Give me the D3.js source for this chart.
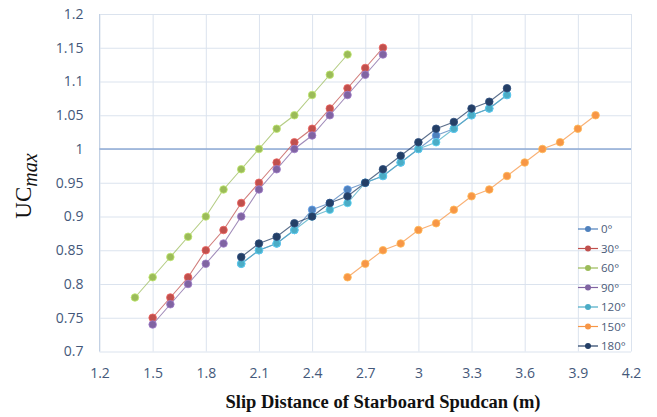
<!DOCTYPE html>
<html>
<head>
<meta charset="utf-8">
<script src="https://cdn.jsdelivr.net/npm/d3@7"></script>
<style>
  body { margin: 0; background: #fff; }
  svg { display: block; }
</style>
</head>
<body>
<div id="chart"></div>
<script>
// slip distances (m), one list per group of series
var slipA = [1.5, 1.6, 1.7, 1.8, 1.9, 2.0, 2.1, 2.2, 2.3, 2.4, 2.5, 2.6, 2.7, 2.8];
var slipB = [1.4, 1.5, 1.6, 1.7, 1.8, 1.9, 2.0, 2.1, 2.2, 2.3, 2.4, 2.5, 2.6];
var slipC = [2.0, 2.1, 2.2, 2.3, 2.4, 2.5, 2.6, 2.7, 2.8, 2.9, 3.0, 3.1, 3.2, 3.3, 3.4, 3.5];
var slipD = [2.6, 2.7, 2.8, 2.9, 3.0, 3.1, 3.2, 3.3, 3.4, 3.5, 3.6, 3.7, 3.8, 3.9, 4.0];

// UCmax values per heading
var uc0   = [0.83, 0.85, 0.86, 0.88, 0.91, 0.92, 0.94, 0.95, 0.96, 0.98, 1.00, 1.02, 1.03, 1.05, 1.06, 1.08];
var uc30  = [0.75, 0.78, 0.81, 0.85, 0.88, 0.92, 0.95, 0.98, 1.01, 1.03, 1.06, 1.09, 1.12, 1.15];
var uc60  = [0.78, 0.81, 0.84, 0.87, 0.90, 0.94, 0.97, 1.00, 1.03, 1.05, 1.08, 1.11, 1.14];
var uc90  = [0.74, 0.77, 0.80, 0.83, 0.86, 0.90, 0.94, 0.97, 1.00, 1.02, 1.05, 1.08, 1.11, 1.14];
var uc120 = [0.83, 0.85, 0.86, 0.88, 0.90, 0.91, 0.92, 0.95, 0.96, 0.98, 1.00, 1.01, 1.03, 1.05, 1.06, 1.08];
var uc150 = [0.81, 0.83, 0.85, 0.86, 0.88, 0.89, 0.91, 0.93, 0.94, 0.96, 0.98, 1.00, 1.01, 1.03, 1.05];
var uc180 = [0.84, 0.86, 0.87, 0.89, 0.90, 0.92, 0.93, 0.95, 0.97, 0.99, 1.01, 1.03, 1.04, 1.06, 1.07, 1.09];

var headings = ["0°", "30°", "60°", "90°", "120°", "150°", "180°"];
var xTicks = [1.2, 1.5, 1.8, 2.1, 2.4, 2.7, 3, 3.3, 3.6, 3.9, 4.2];
var yTicks = [0.7, 0.75, 0.8, 0.85, 0.9, 0.95, 1, 1.05, 1.1, 1.15, 1.2];

(function() {
    var width = 657, height = 417;
    var left = 99.5, right = 631, top = 14, bottom = 351.5;
    var colors = ["#4f81bd", "#c0504d", "#9bbb59", "#8064a2", "#4bacc6", "#f79646", "#243f66"];
    var tickColor = "#44587a";

    var series = [
        {name: headings[0], xs: slipC, ys: uc0},
        {name: headings[1], xs: slipA, ys: uc30},
        {name: headings[2], xs: slipB, ys: uc60},
        {name: headings[3], xs: slipA, ys: uc90},
        {name: headings[4], xs: slipC, ys: uc120},
        {name: headings[5], xs: slipD, ys: uc150},
        {name: headings[6], xs: slipC, ys: uc180}
    ];
    series.forEach(function(s, i) {
        s.color = colors[i];
        s.points = s.xs.map(function(v, j) { return [v, s.ys[j]]; });
    });

    var x = d3.scaleLinear().domain([1.2, 4.2]).range([left, right]);
    var y = d3.scaleLinear().domain([0.7, 1.2]).range([bottom, top]);

    var svg = d3.select("#chart")
        .append("svg")
        .attr("width", width)
        .attr("height", height);

    // grid
    svg.append("g")
        .attr("transform", "translate(" + left + ",0)")
        .call(d3.axisLeft(y).tickValues(yTicks).tickSize(-(right - left)).tickFormat(""))
        .call(function(g) {
            g.select(".domain").remove();
            g.selectAll("line").attr("stroke", "#dbe3ee").attr("stroke-width", 1);
        });
    svg.append("g")
        .attr("transform", "translate(0," + bottom + ")")
        .call(d3.axisBottom(x).tickValues(xTicks).tickSize(-(bottom - top)).tickFormat(""))
        .call(function(g) {
            g.select(".domain").remove();
            g.selectAll("line").attr("stroke", "#dbe3ee").attr("stroke-width", 1);
        });

    // left axis line and the UC = 1 line
    svg.append("line")
        .attr("x1", left).attr("x2", left)
        .attr("y1", top).attr("y2", bottom)
        .attr("stroke", "#c3d1e4");
    svg.append("line")
        .attr("x1", left).attr("x2", right)
        .attr("y1", y(1)).attr("y2", y(1))
        .attr("stroke", "#8eaad4")
        .attr("stroke-width", 1.3);

    // tick labels
    svg.append("g")
        .attr("transform", "translate(" + left + ",0)")
        .call(d3.axisLeft(y).tickValues(yTicks).tickSize(0).tickPadding(16).tickFormat(function(d) { return String(+d.toFixed(2)); }))
        .call(function(g) {
            g.select(".domain").remove();
            g.selectAll("text")
                .attr("fill", tickColor)
                .style("font-family", "'Open Sans', sans-serif")
                .style("font-size", "14px");
        });
    svg.append("g")
        .attr("transform", "translate(0," + bottom + ")")
        .call(d3.axisBottom(x).tickValues(xTicks).tickSize(0).tickPadding(17).tickFormat(function(d) { return String(+d.toFixed(1)); }))
        .call(function(g) {
            g.select(".domain").remove();
            g.selectAll("text")
                .attr("fill", tickColor)
                .style("font-family", "'Open Sans', sans-serif")
                .style("font-size", "14px");
        });

    // series
    var line = d3.line()
        .x(function(d) { return x(d[0]); })
        .y(function(d) { return y(d[1]); });

    var grp = svg.selectAll(".series")
        .data(series)
        .enter()
        .append("g")
        .attr("class", "series");

    grp.append("path")
        .attr("d", function(d) { return line(d.points); })
        .attr("fill", "none")
        .attr("stroke", function(d) { return d.color; })
        .attr("stroke-opacity", 0.75)
        .attr("stroke-width", 1.1);

    grp.selectAll("circle")
        .data(function(d) { return d.points.map(function(p) { return {p: p, color: d.color}; }); })
        .enter()
        .append("circle")
        .attr("cx", function(d) { return x(d.p[0]); })
        .attr("cy", function(d) { return y(d.p[1]); })
        .attr("r", 3.8)
        .attr("fill", function(d) { return d.color; })
        .attr("stroke", function(d) { return d3.color(d.color).brighter(0.6); })
        .attr("stroke-width", 0.8);

    // legend
    var leg = svg.append("g").attr("transform", "translate(578,229)");
    var item = leg.selectAll("g")
        .data(series)
        .enter()
        .append("g")
        .attr("transform", function(d, i) { return "translate(0," + (i * 19.5) + ")"; });
    item.append("line")
        .attr("x1", 0).attr("x2", 20)
        .attr("stroke", function(d) { return d.color; })
        .attr("stroke-width", 1.2);
    item.append("circle")
        .attr("cx", 10)
        .attr("r", 3)
        .attr("fill", function(d) { return d.color; });
    item.append("text")
        .attr("x", 23)
        .attr("dy", "0.35em")
        .attr("fill", "#4a5a78")
        .style("font-family", "'Open Sans', sans-serif")
        .style("font-size", "11.5px")
        .text(function(d) { return d.name; });

    // axis titles
    svg.append("text")
        .attr("x", 383)
        .attr("y", 408)
        .attr("text-anchor", "middle")
        .style("font-family", "'Liberation Serif', 'Times New Roman', serif")
        .style("font-weight", "bold")
        .style("font-size", "18.5px")
        .attr("fill", "#111")
        .text("Slip Distance of Starboard Spudcan (m)");

    var yt = svg.append("text")
        .attr("transform", "translate(31,186) rotate(-90)")
        .attr("text-anchor", "middle")
        .style("font-family", "'Liberation Serif', 'Times New Roman', serif")
        .attr("fill", "#111");
    yt.append("tspan")
        .style("font-size", "23px")
        .text("UC");
    yt.append("tspan")
        .attr("dy", 6)
        .style("font-size", "20px")
        .style("font-style", "italic")
        .text("max");
})();
</script>
</body>
</html>
